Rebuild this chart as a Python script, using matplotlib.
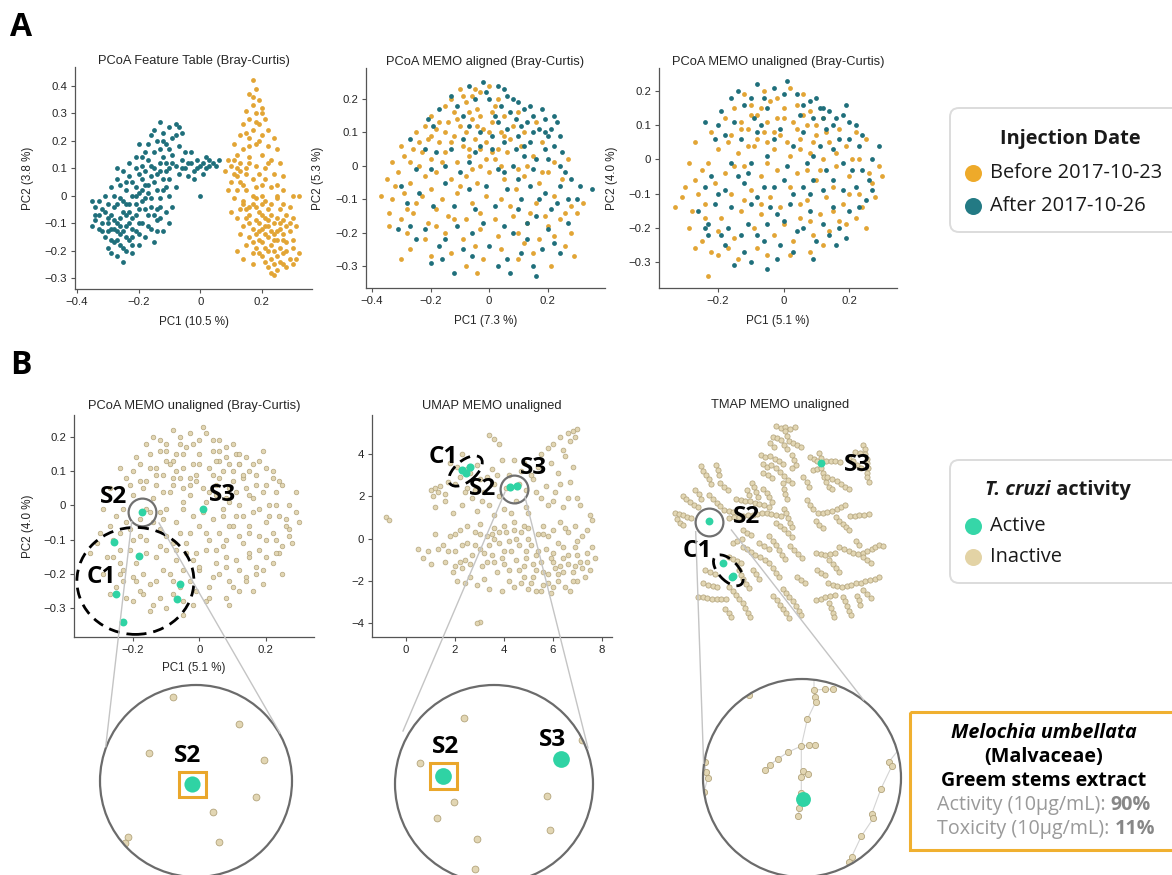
import matplotlib
matplotlib.use('Agg')
import matplotlib.pyplot as plt
from matplotlib.patches import Circle, Ellipse, FancyBboxPatch, Rectangle
from matplotlib.transforms import ScaledTranslation

plt.rcParams['font.family'] = ['Liberation Sans', 'DejaVu Sans']

# ---------------- data ----------------
ORANGE, TEAL = '#e2a535', '#1f6f7b'
ACTIVE, INACT_F, INACT_E = '#2fd3a4', '#e2d6b3', '#b3a47c'

a1_teal = [(-0.35,-0.02),(-0.34,-0.09),(-0.33,-0.12),(-0.32,-0.05),(-0.31,-0.15),(-0.31,0.0),(-0.30,-0.08),(-0.30,-0.19),(-0.29,0.03),(-0.29,-0.12),(-0.28,-0.04),(-0.28,-0.17),(-0.27,0.06),(-0.27,-0.10),(-0.27,-0.22),(-0.26,-0.01),(-0.26,-0.14),(-0.25,0.09),(-0.25,-0.06),(-0.25,-0.19),(-0.24,0.02),(-0.24,-0.11),(-0.23,0.12),(-0.23,-0.03),(-0.23,-0.16),(-0.22,0.05),(-0.22,-0.08),(-0.22,-0.21),(-0.21,0.14),(-0.21,0.0),(-0.21,-0.13),(-0.20,0.08),(-0.20,-0.05),(-0.20,-0.18),(-0.19,0.11),(-0.19,-0.02),(-0.19,-0.10),(-0.18,0.04),(-0.18,-0.15),(-0.17,0.13),(-0.17,-0.07),(-0.16,0.07),(-0.16,-0.01),(-0.16,-0.12),(-0.15,0.10),(-0.15,-0.17),(-0.14,0.02),(-0.14,-0.09),(-0.13,0.12),(-0.13,-0.04),(-0.12,0.06),(-0.12,-0.13),(-0.11,-0.06),(-0.11,0.09),(-0.10,0.0),(-0.10,-0.10),
           (-0.17,0.19),(-0.16,0.22),(-0.15,0.16),(-0.14,0.20),(-0.13,0.27),(-0.13,0.17),(-0.12,0.23),(-0.11,0.19),(-0.10,0.25),(-0.09,0.21),(-0.08,0.26),(-0.09,0.15),(-0.07,0.18),(-0.06,0.23),(-0.20,0.19),(-0.18,0.16),
           (-0.08,0.11),(-0.07,0.08),(-0.06,0.13),(-0.05,0.10),(-0.04,0.07),(-0.03,0.12),(-0.02,0.09),(-0.01,0.13),(0.00,0.11),(0.01,0.12),(0.02,0.10),(0.03,0.13),(0.04,0.12),(0.05,0.11),(0.06,0.13),(-0.03,0.16),(-0.05,0.16),(0.02,0.14),(0.0,0.0),(-0.02,0.06),(0.01,0.08),
           (-0.33,-0.07),(-0.32,-0.13),(-0.30,-0.03),(-0.29,-0.07),(-0.28,0.0),(-0.27,-0.13),(-0.26,0.04),(-0.26,-0.08),(-0.24,-0.03),(-0.24,-0.15),(-0.23,0.07),(-0.22,-0.12),(-0.21,0.03),(-0.21,-0.07),(-0.20,0.01),(-0.19,0.06),(-0.18,-0.05),(-0.17,0.01),(-0.17,-0.11),(-0.15,0.05),(-0.15,-0.07),(-0.14,0.08),(-0.13,-0.01),(-0.12,0.02),(-0.25,-0.24),(-0.29,-0.21),(-0.35,-0.11),(-0.34,-0.04),(-0.27,0.1),(-0.19,0.14),(-0.11,0.03),(-0.09,-0.04),(-0.1,0.06),(-0.08,0.03),
           (-0.34,-0.07),(-0.33,-0.02),(-0.32,-0.1),(-0.31,-0.06),(-0.3,-0.13),(-0.29,-0.16),(-0.28,-0.09),(-0.28,-0.12),(-0.27,-0.03),(-0.26,-0.11),(-0.26,-0.18),(-0.25,-0.02),(-0.25,-0.13),(-0.24,0.05),(-0.24,-0.07),(-0.23,-0.1),(-0.22,0.0),(-0.22,-0.15),(-0.21,0.1),(-0.21,-0.03),(-0.2,-0.1),(-0.19,0.02),(-0.18,0.09),(-0.18,-0.01),(-0.17,0.04),(-0.16,0.11),(-0.16,-0.04),(-0.14,-0.05),(-0.13,0.09),(-0.12,0.14),(-0.11,0.12),(-0.1,0.1),(-0.09,0.12),(-0.06,0.1),(-0.04,0.12),(-0.01,0.1),(0.03,0.11),(-0.12,0.2),(-0.1,0.17),(-0.08,0.22),(-0.15,0.24),(-0.07,0.25),(-0.23,-0.06),(-0.3,-0.1),(-0.27,-0.16),(-0.2,-0.14),(-0.24,-0.2),(-0.22,-0.18),(-0.14,-0.13),(-0.13,-0.08)]
a1_orange = [(0.17,0.42),(0.18,0.39),(0.16,0.37),(0.19,0.35),(0.17,0.33),(0.15,0.31),(0.2,0.32),(0.18,0.3),(0.16,0.28),(0.21,0.28),(0.14,0.26),(0.19,0.26),(0.17,0.24),(0.22,0.24),(0.13,0.22),(0.2,0.22),(0.24,0.21),(0.16,0.21),(0.11,0.19),(0.18,0.19),(0.22,0.18),(0.25,0.17),(0.14,0.17),(0.12,0.15),(0.2,0.15),(0.16,0.14),(0.23,0.13),(0.26,0.12),(0.09,0.13),(0.1,0.11),(0.13,0.12),(0.18,0.11),(0.21,0.1),(0.08,0.09),(0.11,0.08),(0.15,0.08),(0.24,0.08),(0.27,0.07),(0.1,0.05),(0.13,0.05),(0.17,0.06),(0.2,0.04),(0.12,0.02),(0.15,0.02),(0.23,0.03),(0.27,0.02),(0.3,0.0),(0.11,-0.01),(0.14,-0.02),(0.18,-0.01),(0.21,-0.02),(0.25,-0.01),(0.32,0.0),(0.13,-0.05),(0.16,-0.04),(0.19,-0.06),(0.22,-0.05),(0.26,-0.05),(0.29,-0.04),(0.12,-0.08),(0.15,-0.08),(0.18,-0.09),(0.21,-0.08),(0.24,-0.1),(0.27,-0.09),(0.3,-0.08),(0.14,-0.11),(0.17,-0.12),(0.2,-0.12),(0.23,-0.13),(0.26,-0.12),(0.29,-0.13),(0.31,-0.11),(0.16,-0.15),(0.19,-0.16),(0.22,-0.15),(0.25,-0.16),(0.28,-0.17),(0.15,-0.18),(0.18,-0.19),(0.21,-0.19),(0.24,-0.2),(0.27,-0.21),(0.3,-0.19),(0.2,-0.22),(0.23,-0.23),(0.26,-0.24),(0.29,-0.23),(0.22,-0.26),(0.25,-0.27),(0.24,-0.29),(0.28,-0.26),(0.31,-0.23),(0.12,-0.2),(0.14,-0.23),(0.17,-0.25),(0.1,-0.06),(0.09,0.02),(0.17,0.0),(0.2,-0.03),(0.23,-0.07),(0.18,-0.14),(0.21,-0.11),(0.24,-0.14),(0.19,0.08),(0.22,0.12),(0.15,0.1),(0.13,-0.14),(0.27,-0.14),(0.2,-0.17),(0.26,-0.19),(0.17,-0.21),(0.23,-0.18),(0.16,-0.07),(0.25,0.0),(0.12,0.1),(0.16,0.12),(0.2,0.0),
             (0.14,-0.03),(0.17,-0.03),(0.2,-0.07),(0.22,-0.09),(0.25,-0.08),(0.28,-0.07),(0.19,-0.1),(0.22,-0.11),(0.25,-0.13),(0.28,-0.11),(0.16,-0.1),(0.19,-0.13),(0.21,-0.14),(0.24,-0.16),(0.27,-0.16),(0.3,-0.16),(0.17,-0.17),(0.22,-0.2),(0.25,-0.22),(0.28,-0.2),(0.19,-0.21),(0.21,-0.24),(0.27,-0.25),(0.24,-0.25),(0.3,-0.25),(0.23,-0.28),(0.15,-0.05),(0.18,-0.04),(0.23,-0.03),(0.27,-0.03),(0.12,0.07),(0.14,0.04),(0.18,0.03),(0.21,0.06),(0.16,0.18),(0.19,0.2),(0.15,0.23),(0.18,0.27),(0.2,0.3),(0.17,0.36),(0.11,0.13),(0.13,0.09),(0.25,0.04),(0.29,-0.1),(0.26,-0.1),(0.32,-0.21)]

a2_orange = [(-0.1,0.23),(-0.03,0.22),(0.0,0.24),(-0.06,0.21),(-0.2,0.15),(-0.15,0.18),(-0.12,0.16),(-0.08,0.19),(-0.04,0.17),(0.02,0.18),(0.05,0.15),(0.1,0.16),(-0.17,0.13),(-0.25,0.1),(-0.22,0.12),(-0.18,0.11),(-0.14,0.13),(-0.1,0.12),(-0.06,0.14),(-0.02,0.11),(0.01,0.13),(0.04,0.1),(0.08,0.12),(0.12,0.1),(0.16,0.13),(-0.3,0.06),(-0.26,0.05),(-0.21,0.08),(-0.17,0.07),(-0.12,0.09),(-0.09,0.06),(-0.05,0.08),(-0.01,0.07),(0.03,0.05),(0.07,0.08),(0.11,0.06),(0.18,0.07),(-0.33,0.01),(-0.29,0.03),(-0.24,0.0),(-0.2,0.02),(-0.15,0.04),(-0.11,0.01),(-0.07,0.03),(-0.03,0.0),(0.02,0.02),(0.06,0.04),(0.1,-0.01),(0.15,0.03),(0.22,0.01),(0.27,0.02),(-0.35,-0.04),(-0.31,-0.02),(-0.27,-0.05),(-0.22,-0.03),(-0.18,-0.02),(-0.13,-0.04),(-0.08,-0.03),(-0.04,-0.05),(0.0,-0.02),(0.05,-0.04),(0.12,-0.03),(0.17,-0.05),(0.2,-0.02),(0.25,-0.04),(-0.37,-0.09),(-0.33,-0.1),(-0.29,-0.08),(-0.25,-0.11),(-0.2,-0.07),(-0.16,-0.1),(-0.11,-0.08),(-0.06,-0.11),(-0.01,-0.09),(0.04,-0.1),(0.09,-0.07),(0.16,-0.11),(0.22,-0.09),(0.28,-0.12),(0.32,-0.11),(-0.34,-0.14),(-0.3,-0.16),(-0.26,-0.14),(-0.21,-0.17),(-0.14,-0.15),(-0.08,-0.16),(-0.03,-0.14),(0.02,-0.16),(0.08,-0.15),(0.13,-0.17),(0.19,-0.15),(0.24,-0.16),(0.3,-0.14),(-0.34,-0.18),(-0.28,-0.2),(-0.22,-0.22),(-0.15,-0.2),(-0.09,-0.22),(-0.03,-0.19),(0.03,-0.21),(0.1,-0.2),(0.17,-0.22),(0.22,-0.21),(0.28,-0.2),(-0.3,-0.28),(-0.27,-0.25),(-0.2,-0.27),(-0.13,-0.26),(-0.08,-0.3),(-0.02,-0.28),(0.04,-0.25),(0.1,-0.28),(0.15,-0.26),(0.21,-0.3),(0.26,-0.24),(0.29,-0.27),(-0.04,-0.32),
             (-0.13,0.2),(-0.09,0.21),(-0.05,0.23),(0.03,0.2),(-0.11,0.14),(-0.07,0.16),(-0.03,0.15),(0.01,0.16),(-0.15,0.1),(-0.08,0.1),(-0.04,0.12),(0.0,0.1),(-0.13,0.07),(-0.07,0.05),(-0.03,0.05),(0.01,0.04),(0.05,0.09),(-0.16,0.01),(-0.06,-0.01),(0.04,0.0),(-0.23,0.04),(-0.27,0.01),(-0.32,-0.06),(-0.23,-0.09),(-0.18,-0.13),(-0.12,-0.16),(0.07,-0.12),(0.14,-0.14),(0.2,-0.18),(0.26,-0.14),(0.12,-0.23),(-0.05,-0.24),(-0.18,-0.18),(-0.28,-0.13),(-0.01,0.02),(0.13,0.0),(0.18,-0.02),(-0.1,-0.06),(-0.2,0.09),(-0.24,0.07)]
a2_teal = [(-0.07,0.24),(-0.02,0.25),(0.03,0.24),(0.06,0.21),(-0.05,0.2),(0.0,0.2),(0.04,0.18),(0.08,0.2),(0.12,0.17),(0.15,0.15),(0.19,0.14),(0.21,0.11),(0.23,0.13),(0.17,0.11),(0.13,0.13),(0.09,0.14),(-0.13,0.21),(-0.17,0.17),(-0.09,0.15),(0.02,0.15),(0.06,0.11),(0.1,0.09),(0.14,0.07),(0.19,0.05),(0.22,0.06),(0.25,0.04),(0.2,0.09),(0.16,0.02),(0.12,0.03),(0.08,0.0),(0.03,-0.01),(-0.05,0.04),(-0.09,0.08),(-0.13,0.05),(-0.18,0.04),(-0.22,0.05),(-0.25,-0.01),(-0.3,-0.06),(-0.24,-0.08),(-0.19,-0.12),(-0.12,-0.12),(-0.07,-0.07),(-0.01,-0.06),(0.06,-0.07),(0.11,-0.1),(0.14,-0.06),(0.19,-0.08),(0.24,-0.06),(0.28,-0.04),(0.31,-0.06),(0.35,-0.07),(0.27,-0.1),(0.21,-0.13),(0.16,-0.15),(0.1,-0.13),(0.05,-0.18),(-0.02,-0.17),(-0.06,-0.2),(-0.11,-0.18),(-0.17,-0.24),(-0.22,-0.19),(-0.27,-0.18),(-0.31,-0.19),(-0.25,-0.22),(-0.16,-0.28),(-0.12,-0.32),(-0.06,-0.27),(0.0,-0.24),(0.06,-0.28),(0.13,-0.22),(0.18,-0.25),(0.24,-0.26),(0.2,-0.19),(0.27,-0.17),(0.15,-0.3),(0.16,-0.33),(0.07,-0.32),(-0.2,-0.29),(-0.1,-0.02),(-0.15,0.0),(-0.03,0.06),(0.01,0.09),(0.09,0.05),(0.05,0.07),(-0.27,0.08),(-0.21,0.14),
           (-0.01,0.22),(0.05,0.23),(0.1,0.19),(0.14,0.18),(0.18,0.17),(0.22,0.15),(0.11,0.12),(0.15,0.1),(0.19,0.1),(0.24,0.09),(0.07,0.16),(0.03,0.13),(-0.03,0.1),(-0.07,0.12),(0.2,0.02),(0.24,0.0),(0.15,-0.01),(0.1,-0.04),(0.05,-0.02),(0.17,-0.1),(0.23,-0.11),(0.13,-0.17),(0.08,-0.2),(0.02,-0.12),(-0.05,-0.13),(-0.15,-0.05),(-0.2,-0.01),(-0.28,-0.11),(-0.15,-0.22),(-0.09,-0.25),(0.03,-0.3),(0.11,-0.26),(0.22,-0.23),(0.3,-0.1),(0.26,-0.02),(-0.11,0.18),(-0.19,0.12),(0.01,0.05),(-0.07,0.01),(0.12,0.06)]

# PCoA MEMO unaligned (same samples in panel A3 and B1)
a3_orange = [(-0.12,0.19),(-0.06,0.2),(0.02,0.21),(0.06,0.19),(-0.15,0.15),(-0.1,0.16),(-0.04,0.17),(0.0,0.15),(0.04,0.16),(0.08,0.14),(-0.18,0.12),(-0.13,0.11),(-0.08,0.13),(-0.02,0.12),(0.03,0.11),(0.07,0.1),(0.12,0.12),(0.17,0.09),(0.22,0.08),(-0.22,0.08),(-0.16,0.07),(-0.11,0.09),(-0.06,0.08),(-0.01,0.07),(0.05,0.06),(0.1,0.07),(0.14,0.05),(0.19,0.04),(0.25,0.06),(-0.27,0.05),(-0.2,0.03),(-0.14,0.02),(-0.09,0.04),(-0.03,0.03),(0.02,0.01),(0.08,0.02),(0.12,0.0),(0.16,-0.02),(0.21,0.0),(-0.29,-0.01),(-0.25,-0.03),(-0.18,-0.04),(-0.12,-0.02),(-0.07,-0.05),(-0.02,-0.03),(0.04,-0.04),(0.1,-0.06),(0.15,-0.08),(0.2,-0.05),(0.26,-0.04),(0.29,-0.02),(-0.3,-0.08),(-0.26,-0.1),(-0.21,-0.07),(-0.16,-0.1),(-0.1,-0.09),(-0.04,-0.11),(0.02,-0.08),(0.07,-0.12),(0.13,-0.11),(0.18,-0.13),(0.23,-0.1),(0.28,-0.11),(-0.28,-0.15),(-0.24,-0.13),(-0.19,-0.17),(-0.13,-0.15),(-0.07,-0.16),(-0.01,-0.14),(0.05,-0.17),(0.11,-0.16),(0.17,-0.18),(0.22,-0.17),(0.25,-0.2),(-0.33,-0.14),(-0.29,-0.2),(-0.25,-0.24),(-0.2,-0.21),(-0.15,-0.23),(-0.09,-0.2),(-0.03,-0.22),(0.03,-0.24),(0.09,-0.22),(0.14,-0.21),(-0.23,-0.34),(-0.2,-0.28),(-0.14,-0.29),(-0.08,-0.26),(0.02,-0.28),(0.08,-0.27),(0.12,-0.25),(-0.27,-0.26),(0.27,-0.07),(0.3,-0.05),
             (-0.1,0.13),(-0.05,0.11),(0.0,0.12),(-0.07,0.15),(-0.13,0.09),(-0.08,0.06),(-0.03,0.08),(0.01,0.05),(0.04,0.09),(0.06,0.13),(-0.17,0.05),(-0.11,0.04),(-0.05,0.05),(0.05,0.03),(0.09,0.05),(0.13,0.08),(-0.15,-0.02),(-0.05,-0.01),(0.07,-0.03),(0.11,-0.03),(-0.23,-0.01),(-0.27,-0.06),(-0.24,-0.17),(-0.31,-0.11),(-0.22,-0.27),(-0.17,-0.26),(-0.05,-0.28),(0.05,-0.13),(0.15,-0.15),(0.2,-0.1),(0.24,-0.14),(0.19,-0.19),(-0.12,-0.12),(-0.07,-0.13),(0.0,-0.19),(0.08,-0.18),(0.1,0.1),(-0.02,0.18),(0.16,0.02),(0.23,0.0)]
a3_teal = [(-0.08,0.22),(-0.03,0.21),(0.01,0.23),(-0.14,0.2),(-0.1,0.18),(0.04,0.19),(0.08,0.17),(0.11,0.15),(0.14,0.14),(0.16,0.12),(0.19,0.16),(0.2,0.11),(0.13,0.09),(0.09,0.12),(0.05,0.13),(-0.05,0.15),(-0.16,0.18),(-0.2,0.1),(-0.24,0.11),(-0.13,0.06),(-0.07,0.1),(-0.01,0.09),(0.06,0.08),(0.11,0.04),(0.17,0.06),(0.23,0.04),(0.27,0.0),(0.29,0.04),(0.24,-0.03),(0.18,-0.01),(0.13,-0.03),(0.07,-0.01),(0.01,-0.02),(-0.05,0.01),(-0.1,-0.01),(-0.16,-0.01),(-0.22,-0.05),(-0.24,-0.08),(-0.18,-0.09),(-0.12,-0.07),(-0.06,-0.08),(0.0,-0.06),(0.06,-0.08),(0.12,-0.09),(0.18,-0.09),(0.22,-0.08),(0.25,-0.12),(0.2,-0.15),(0.15,-0.14),(0.08,-0.15),(0.02,-0.13),(-0.04,-0.14),(-0.1,-0.13),(-0.16,-0.14),(-0.21,-0.13),(-0.23,-0.19),(-0.17,-0.2),(-0.11,-0.19),(-0.05,-0.19),(0.0,-0.18),(0.06,-0.2),(0.12,-0.19),(0.19,-0.23),(0.16,-0.25),(0.1,-0.24),(0.04,-0.21),(-0.01,-0.25),(-0.06,-0.24),(-0.12,-0.27),(-0.18,-0.25),(-0.24,-0.2),(-0.1,-0.3),(-0.05,-0.32),(-0.02,-0.29),(-0.15,-0.31),(-0.23,-0.22),(0.09,-0.29),(-0.21,0.06),(-0.19,0.14),(-0.09,0.12),
           (-0.12,0.16),(-0.06,0.18),(0.0,0.19),(0.06,0.16),(0.1,0.18),(0.12,0.12),(0.15,0.1),(0.18,0.13),(0.22,0.1),(0.24,0.07),(0.2,0.06),(0.15,0.03),(0.09,0.01),(0.03,0.04),(-0.03,0.06),(-0.08,0.08),(-0.15,0.11),(-0.18,0.07),(0.26,-0.06),(0.21,-0.03),(0.15,-0.06),(0.09,-0.06),(0.03,-0.1),(-0.03,-0.08),(-0.08,-0.11),(-0.14,-0.05),(-0.2,-0.1),(-0.26,-0.15),(-0.19,-0.22),(-0.13,-0.22),(-0.08,-0.22),(0.03,-0.27),(0.14,-0.22),(0.17,-0.2),(0.27,-0.09),(0.23,-0.14),(-0.02,-0.16),(0.08,-0.1),(-0.11,-0.04),(0.12,0.15)]
b1_active = [(-0.172,-0.021),(0.012,-0.011),(-0.256,-0.106),(-0.182,-0.148),(-0.058,-0.229),(-0.252,-0.26),(-0.069,-0.275),(-0.229,-0.34)]

umap_inactive = [(1.2,0.2),(1.5,-0.3),(1.8,0.1),(2.0,-0.6),(2.2,0.4),(2.4,-1.0),(2.5,-0.2),(2.8,0.3),(3.0,-0.5),(3.1,-1.3),(3.3,0.1),(3.5,-0.8),(3.6,0.5),(3.8,-0.2),(4.0,-1.2),(4.1,0.3),(4.3,-0.6),(4.5,0.0),(4.6,-1.5),(4.8,0.6),(4.9,-0.9),(5.1,-0.3),(5.2,-1.8),(5.4,0.2),(5.5,-1.1),(5.7,-0.5),(5.8,-2.1),(6.0,0.4),(6.1,-1.4),(6.2,-0.2),(6.4,-0.9),(6.5,-2.3),(6.6,0.3),(6.8,-1.6),(6.9,-0.4),(7.1,-1.1),(7.2,0.1),(7.4,-0.7),(7.5,-1.5),(7.7,-0.9),(1.6,-1.1),(1.9,-1.6),(2.1,-2.0),(2.3,-1.4),(2.6,-1.8),(2.9,-2.2),(3.2,-1.9),(3.4,-2.4),(3.7,-1.6),(3.9,-2.5),(4.2,-2.0),(4.4,-2.3),(4.7,-2.1),(5.0,-2.4),(5.3,-2.5),(5.6,-2.2),(5.9,-2.6),(6.2,-2.0),(6.7,-2.5),(7.0,-2.0),(7.3,-1.8),(3.5,0.2),(4.0,0.6),(4.4,0.8),(5.0,0.5),(5.6,0.6),(6.3,0.8),(6.9,0.6),(7.4,0.4),(3.0,0.7),(2.5,0.6),(5.3,-0.8),(6.0,-1.1),(6.6,-1.2),(4.8,-1.3),(4.2,-0.1),(3.3,-1.1),(2.7,-0.8),(5.8,-1.7),(6.4,-1.6),(7.0,-0.8),(0.5,-0.5),(0.7,-0.9),(1.0,-1.2),(0.9,-0.6),
                 (1.0,2.3),(1.1,2.0),(1.3,2.2),(1.2,1.5),(1.6,1.8),(1.9,1.2),(2.0,2.6),(2.3,1.6),(2.5,2.4),(2.7,1.9),(2.9,1.3),(3.0,2.8),(3.2,2.2),(3.4,1.6),(3.5,3.3),(3.6,2.6),(3.8,2.0),(3.9,3.7),(4.0,1.4),(4.2,3.0),(4.5,1.8),(4.7,3.2),(4.9,2.3),(5.0,1.2),(5.2,2.8),(5.4,3.4),(5.5,1.9),(5.7,2.5),(5.9,3.6),(6.1,2.2),(6.2,3.1),(6.4,1.5),(6.5,3.9),(6.7,2.7),(7.0,1.9),(7.5,1.1),(7.6,0.9),(1.8,3.6),(2.3,4.0),(2.9,3.5),(3.4,4.9),(3.6,4.7),(3.8,4.5),(4.4,3.7),(4.8,3.6),(5.5,4.0),(5.8,4.3),(6.0,4.5),(6.3,4.8),(6.6,5.0),(6.8,5.1),(6.9,4.8),(6.7,4.6),(7.0,5.2),(6.4,4.2),(2.6,3.1),(2.2,2.9),(-0.8,1.0),(-0.7,0.9),(3.0,-3.95),(2.9,-4.0),(1.7,2.7),(2.8,2.3),(4.6,2.6),(5.1,3.0),(3.3,2.9),(1.4,2.5),(6.0,1.8),(6.8,3.4),(6.6,1.9),
                 (1.3,-0.5),(1.7,-0.6),(2.0,0.2),(2.3,-0.3),(2.6,-1.2),(2.8,-0.3),(3.0,0.2),(3.2,-0.7),(3.4,-0.3),(3.6,-1.1),(3.8,0.3),(4.0,-0.6),(4.2,-1.5),(4.4,0.4),(4.6,-0.3),(4.8,-1.8),(5.0,0.0),(5.2,-1.2),(5.4,-0.6),(5.6,-1.6),(5.8,0.1),(6.0,-0.7),(6.2,-1.7),(6.4,-0.4),(6.6,-0.8),(6.8,-2.0),(7.0,-0.1),(7.2,-1.4),(7.4,-1.1),(7.6,-0.4),(5.1,-2.1),(5.5,-2.5),(6.0,-2.3),(6.3,-1.3),(6.9,-1.3),(5.9,-0.9),(5.3,-1.5),(4.5,-1.0),(3.9,-0.9),(4.9,-0.6),(2.2,-1.1),(2.0,-1.3),(2.4,-2.1),(3.6,0.0),(4.7,0.3),(5.6,0.2),(6.5,0.5),(2.5,3.3),(2.1,3.4),(1.6,2.1),(1.2,2.4),(2.4,2.2),(3.1,1.8),(3.7,3.0),(4.1,2.4),(5.3,2.2),(5.8,1.6),(6.3,2.6),(7.1,1.6),(4.3,1.2),(3.6,1.1),(4.9,1.5)]
umap_active = [(2.27,3.24),(2.61,3.40),(2.45,3.11),(4.24,2.42),(4.54,2.50)]

# TMAP layout coordinates (arbitrary layout units, y downward)
tmap_chains = [
 [(438,108),(452,114),(466,110),(480,116),(494,112)],
 [(466,124),(470,138),(476,152),(488,160),(502,164),(514,172)],
 [(428,140),(442,144),(454,150),(462,164),(470,178)],
 [(420,160),(432,172)],
 [(392,194),(406,202),(420,198),(434,206),(448,212),(460,222)],
 [(398,222),(410,230),(424,226),(438,234),(450,246),(462,258),(474,270),(486,280)],
 [(486,196),(492,210),(498,224),(486,234)],
 [(400,250),(414,256),(426,264)],
 [(548,240),(560,236),(573,218),(588,214),(602,212),(616,214),(630,216)],
 [(568,188),(572,204)],
 [(574,234),(578,248),(582,262),(588,276),(596,290),(606,298)],
 [(592,262),(606,268),(620,274),(632,282),(644,290),(656,298)],
 [(540,200),(552,206),(562,212)],
 [(700,164),(704,178),(706,192),(710,206),(712,220),(714,234),(710,248),(712,262),(716,276)],
 [(676,186),(690,190)],
 [(656,204),(668,214),(680,224),(692,234)],
 [(520,262),(530,276),(536,290)],
 [(366,278),(372,292),(378,306),(384,320)],
 [(398,296),(410,308),(418,322),(426,336)],
 [(458,280),(462,296),(466,312),(470,328)],
 [(318,326),(332,330),(346,332),(360,334),(374,338),(388,342),(402,346),(416,352)],
 [(350,300),(356,314)],
 [(212,228),(220,242),(228,256),(236,268),(244,282)],
 [(258,226),(264,240),(268,254)],
 [(270,280),(282,290),(294,300)],
 [(158,318),(168,328),(180,336),(192,344),(204,350)],
 [(134,368),(146,372),(158,376),(170,380),(184,384)],
 [(140,388),(150,398),(160,406)],
 [(238,316),(250,328),(260,338),(270,348)],
 [(282,360),(296,362),(310,366)],
 [(196,300),(206,312),(214,326)],
 [(298,384),(312,382),(326,380),(340,378),(354,376),(368,374),(382,372),(396,370),(410,370),(424,372),(438,374),(452,378)],
 [(462,356),(468,370),(474,384),(480,398),(486,412)],
 [(438,398),(450,408),(462,418),(474,430),(486,442)],
 [(340,420),(352,428),(364,436)],
 [(564,370),(578,368),(592,366),(606,362),(620,356),(634,350),(646,344)],
 [(618,380),(628,392),(638,402),(648,412),(658,420)],
 [(660,378),(674,378),(688,376),(702,374),(716,372)],
 [(558,392),(568,404),(580,414)],
 [(530,330),(540,344),(548,358)],
 [(558,490),(572,492),(586,494),(600,492),(614,488)],
 [(628,470),(642,476),(656,482),(670,488),(684,492),(698,488),(712,482),(726,476)],
 [(734,470),(746,466),(758,468)],
 [(598,510),(608,522),(618,534),(628,546)],
 [(678,454),(686,466)],
 [(698,500),(710,510),(722,518)],
 [(560,540),(572,548),(584,556)],
 [(594,580),(608,584),(622,588),(636,590),(650,588),(664,584),(678,580),(692,578),(706,574),(720,570),(734,566),(746,562)],
 [(558,630),(572,626),(586,622),(600,618),(614,614)],
 [(598,640),(604,654),(608,668),(612,682)],
 [(640,620),(646,634),(652,648),(658,662),(664,676)],
 [(680,618),(686,630),(690,644)],
 [(700,600),(712,612),(722,624)],
 [(418,438),(428,452),(438,466),(446,480),(456,494),(466,508)],
 [(480,468),(492,480),(504,492),(516,504)],
 [(388,458),(402,468),(416,478)],
 [(338,470),(350,478),(362,486),(376,494),(390,502),(404,510)],
 [(418,520),(428,534),(438,548),(448,560)],
 [(458,598),(468,610),(478,622),(488,634)],
 [(428,618),(440,630),(450,644),(460,656),(468,670),(476,684)],
 [(498,648),(506,662),(512,676)],
 [(500,560),(512,570),(524,580)],
 [(204,620),(218,622),(232,624),(246,626),(260,628),(274,628),(288,626)],
 [(296,500),(310,506),(322,512),(334,518)],
 [(328,540),(334,554),(340,568),(348,582),(358,594)],
 [(368,540),(378,552),(386,566)],
 [(298,590),(308,602),(318,614),(328,626),(338,640),(346,654),(354,668),(360,682)],
 [(286,656),(296,668),(304,682)],
 [(220,580),(234,584),(248,588),(262,590)],
 [(226,540),(240,546),(254,552)],
 [(310,460),(322,452),(336,446)],
]
tmap_active = [(238,394),(280,520),(310,558),(306,562),(573,218)]

# zoom-in circles (local offsets from circle centre, y downward)
z1_inactive = [(-22.7,-84.3),(43,-57),(-46.7,-28.3),(68,-21),(60,15.7),(16.7,31.3),(-67.7,55.7),(23.3,61.3),(-71,62)]
z1_active = [(-3.7,3.3)]
z2_inactive = [(-29.7,-65.7),(-74.4,-21.3),(88,-44),(-39.7,17.7),(52.8,11.7),(-57.2,33.7),(56,45.7),(-16.9,55),(-18.6,85.3)]
z2_active = [(-50.8,-8),(67.1,-25)]
z3_edges = [
 [(12,-110),(12,-88),(13.3,-80.7),(13.7,-76),(5.3,-58.7),(-0.7,-32),(-0.7,-7),(-0.7,15.3),(1.3,21.3),(-2.7,30.3),(-3.7,37.7)],
 [(-0.7,-32),(-13.7,-26),(-24.3,-19),(-32,-13),(-36.7,-8)],
 [(-0.7,-32),(6.7,-33),(13.3,-33)],
 [(-0.7,-7),(6,-4.3)],
 [(12,-88),(23.3,-88.7),(30.7,-88.7)],
 [(98,-30),(87,-16.3),(90,-12.3),(79,10.7),(69.7,36),(71.3,40.3),(59.3,58.3),(49.7,78.7),(47.3,83.7),(38,100)],
 [(-97,-16.3),(-96.3,-5.7),(-94.3,0.3),(-98,13.7)],
]
z3_inactive = [(12,-88),(23.3,-88.7),(30.7,-88.7),(13.3,-80.7),(13.7,-76),(5.3,-58.7),(-0.7,-32),(6.7,-33),(13.3,-33),(-13.7,-26),(-24.3,-19),(-32,-13),(-36.7,-8),(0.7,-7),(6,-4.3),(-0.7,-1.3),(-0.7,15.3),(-2.7,30.3),(-3.7,37.7),(-97,-16.3),(-96.3,-5.7),(-94.3,0.3),(-98,13.7),(87,-16.3),(90,-12.3),(79,10.7),(69.7,36),(71.3,40.3),(59.3,58.3),(49.7,78.7),(47.3,83.7),(-52.7,-82.7)]
z3_active = [(1.3,21.3)]

legend_a_labels = ['Before 2017-10-23', 'After 2017-10-26']
legend_b_labels = ['Active', 'Inactive']

# ---------------- figure ----------------
W, H = 1172, 875
fig = plt.figure(figsize=(W / 100, H / 100), dpi=100)
TXT = '#262626'
OS = ['Open Sans', 'DejaVu Sans']


def px_axes(l, t, r, b):
    return fig.add_axes([l / W, 1 - b / H, (r - l) / W, (b - t) / H])


def style(ax, xt, yt, xl, yl, title, ylx, xly, tpad=2.5):
    for s in ['top', 'right']:
        ax.spines[s].set_visible(False)
    for s in ['left', 'bottom']:
        ax.spines[s].set_color('#555555')
        ax.spines[s].set_linewidth(0.9)
    ax.tick_params(labelsize=8.2, colors=TXT, length=3, width=0.8, color='#555555', pad=2.5)
    ax.set_xticks(xt)
    ax.set_yticks(yt)
    ax.set_xticklabels([('%g' % v).replace('-', '\u2212') for v in xt])
    ax.set_yticklabels([('%g' % v).replace('-', '\u2212') for v in yt])
    if xl:
        ax.set_xlabel(xl, fontsize=8.4, color=TXT)
        ax.xaxis.set_label_coords(0.5, xly)
    if yl:
        ax.set_ylabel(yl, fontsize=8.4, color=TXT)
        ax.yaxis.set_label_coords(ylx, 0.5)
    ax.set_title(title, fontsize=9.3, color=TXT, pad=tpad)


def xs(pts):
    return [p[0] for p in pts]


def ys(pts):
    return [p[1] for p in pts]


SA = 12
pc_xt = [-0.4, -0.2, 0, 0.2]
# A1
ax = px_axes(75, 67, 312, 289)
ax.scatter(xs(a1_teal), ys(a1_teal), s=SA, c=TEAL, linewidths=0)
ax.scatter(xs(a1_orange), ys(a1_orange), s=SA, c=ORANGE, linewidths=0)
ax.set_xlim(-0.4065, 0.363); ax.set_ylim(-0.34, 0.469)
style(ax, pc_xt, [-0.3, -0.2, -0.1, 0, 0.1, 0.2, 0.3, 0.4], 'PC1 (10.5 %)', 'PC2 (3.8 %)',
      'PCoA Feature Table (Bray-Curtis)', -0.172, -0.122)
# A2
ax = px_axes(366, 68, 605, 288)
ax.scatter(xs(a2_orange), ys(a2_orange), s=SA, c=ORANGE, linewidths=0)
ax.scatter(xs(a2_teal), ys(a2_teal), s=SA, c=TEAL, linewidths=0)
ax.set_xlim(-0.42, 0.395); ax.set_ylim(-0.366, 0.293)
style(ax, pc_xt, [-0.3, -0.2, -0.1, 0, 0.1, 0.2], 'PC1 (7.3 %)', 'PC2 (5.3 %)',
      'PCoA MEMO aligned (Bray-Curtis)', -0.176, -0.122)
# A3
ax = px_axes(659, 68, 897, 288)
ax.scatter(xs(a3_orange), ys(a3_orange), s=SA, c=ORANGE, linewidths=0)
ax.scatter(xs(a3_teal), ys(a3_teal), s=SA, c=TEAL, linewidths=0)
ax.set_xlim(-0.38, 0.346); ax.set_ylim(-0.376, 0.267)
style(ax, [-0.2, 0, 0.2], [-0.3, -0.2, -0.1, 0, 0.1, 0.2], 'PC1 (5.1 %)', 'PC2 (4.0 %)',
      'PCoA MEMO unaligned (Bray-Curtis)', -0.172, -0.122)


def px_ellipse(ax, cx, cy, w, h, angle, **kw):
    tr = fig.dpi_scale_trans + ScaledTranslation(cx, cy, ax.transData)
    e = Ellipse((0, 0), w / 100, h / 100, angle=angle, transform=tr, fill=False, **kw)
    ax.add_artist(e)


LBL = dict(fontsize=17.5, fontweight='bold', family=OS, color='black',
           ha='center', va='center', zorder=6)

# B1
ax = px_axes(74, 415, 314, 637)
ax.scatter(xs(a3_orange) + xs(a3_teal), ys(a3_orange) + ys(a3_teal), s=11, c=INACT_F,
           edgecolors=INACT_E, linewidths=0.5)
ax.scatter(xs(b1_active), ys(b1_active), s=32, c=ACTIVE, linewidths=0, zorder=4)
ax.set_xlim(-0.378, 0.345); ax.set_ylim(-0.385, 0.264)
style(ax, [-0.2, 0, 0.2], [-0.3, -0.2, -0.1, 0, 0.1, 0.2], 'PC1 (5.1 %)', 'PC2 (4.0 %)',
      'PCoA MEMO unaligned (Bray-Curtis)', -0.167, -0.113, tpad=4)
ax.plot([b1_active[0][0]], [b1_active[0][1]], 'o', ms=20, mfc='none', mec='#707070', mew=1.6, zorder=5)
px_ellipse(ax, -0.193, -0.221, 117, 107, 0, edgecolor='black', lw=2, ls=(0, (4, 2.5)), zorder=5)
ax.text(-0.26, 0.024, 'S2', **LBL)
ax.text(0.068, 0.029, 'S3', **LBL)
ax.text(-0.295, -0.21, 'C1', **LBL)

# B2
ax = px_axes(372, 415, 612, 637)
ax.scatter(xs(umap_inactive), ys(umap_inactive), s=12, c=INACT_F, edgecolors=INACT_E, linewidths=0.5)
ax.scatter(xs(umap_active), ys(umap_active), s=34, c=ACTIVE, linewidths=0, zorder=4)
ax.set_xlim(-1.39, 8.41); ax.set_ylim(-4.66, 5.85)
style(ax, [0, 2, 4, 6, 8], [-4, -2, 0, 2, 4], None, None, 'UMAP MEMO unaligned', 0, 0, tpad=4)
ax.plot([4.42], [2.37], 'o', ms=20, mfc='none', mec='#707070', mew=1.6, zorder=5)
px_ellipse(ax, 2.43, 3.20, 40, 21, 40, edgecolor='black', lw=2, ls=(0, (4, 2.5)), zorder=5)
ax.text(1.51, 3.85, 'C1', **LBL)
ax.text(3.14, 2.36, 'S2', **LBL)
ax.text(5.22, 3.33, 'S3', **LBL)

# B3 (TMAP)
ax = px_axes(630, 390, 930, 680)
ax.set_xlim(0, 900); ax.set_ylim(870, 0)
ax.axis('off')
for ch in tmap_chains:
    ax.plot(xs(ch), ys(ch), color='#e3e3e3', lw=0.5, zorder=1)
allt = [p for ch in tmap_chains for p in ch]
ax.scatter(xs(allt), ys(allt), s=14, c=INACT_F, edgecolors=INACT_E, linewidths=0.55, zorder=2)
ax.scatter(xs(tmap_active), ys(tmap_active), s=32, c=ACTIVE, linewidths=0, zorder=4)
ax.text(0.5, 0.948, 'TMAP MEMO unaligned', transform=ax.transAxes, ha='center', va='center',
        fontsize=9.3, color=TXT)
ax.plot([237], [395], 'o', ms=20, mfc='none', mec='#707070', mew=1.6, zorder=5)
px_ellipse(ax, 295, 541, 38, 20, -47, edgecolor='black', lw=2, ls=(0, (4, 2.5)), zorder=5)
ax.text(350, 382, 'S2', **LBL)
ax.text(682, 225, 'S3', **LBL)
ax.text(202, 482, 'C1', **LBL)


# zoom circles
def zoom_axes(cx, cy, r):
    a = px_axes(cx - r - 3, cy - r - 3, cx + r + 3, cy + r + 3)
    a.set_xlim(-r - 3, r + 3); a.set_ylim(r + 3, -r - 3)
    a.axis('off')
    c = Circle((0, 0), r, fill=False, edgecolor='#6b6b6b', lw=1.6, zorder=5)
    a.add_patch(c)
    clip = Circle((0, 0), r, transform=a.transData)
    return a, clip


ax, clip = zoom_axes(196, 781, 96)
sc = ax.scatter(xs(z1_inactive), ys(z1_inactive), s=24, c=INACT_F, edgecolors=INACT_E, linewidths=0.6)
sc.set_clip_path(clip)
ax.scatter(xs(z1_active), ys(z1_active), s=135, c=ACTIVE, linewidths=0, zorder=4)
ax.add_patch(Rectangle((-17, -9.3), 27, 25, fill=False, edgecolor='#eaa72b', lw=2.2, zorder=4))
ax.text(-8.3, -25.5, 'S2', **LBL)

ax, clip = zoom_axes(494, 784, 99)
sc = ax.scatter(xs(z2_inactive), ys(z2_inactive), s=24, c=INACT_F, edgecolors=INACT_E, linewidths=0.6)
sc.set_clip_path(clip)
ax.scatter(xs(z2_active), ys(z2_active), s=145, c=ACTIVE, linewidths=0, zorder=4)
ax.add_patch(Rectangle((-64.4, -20.7), 27.5, 25.7, fill=False, edgecolor='#eaa72b', lw=2.2, zorder=4))
ax.text(-48.3, -37, 'S2', **LBL)
ax.text(58.9, -44.5, 'S3', **LBL)

ax, clip = zoom_axes(802, 778, 99)
for ed in z3_edges:
    ln, = ax.plot(xs(ed), ys(ed), color='#d4d4d4', lw=0.8, zorder=1)
    ln.set_clip_path(clip)
sc = ax.scatter(xs(z3_inactive), ys(z3_inactive), s=20, c=INACT_F, edgecolors=INACT_E, linewidths=0.6, zorder=2)
sc.set_clip_path(clip)
ax.scatter(xs(z3_active), ys(z3_active), s=115, c=ACTIVE, linewidths=0, zorder=4)

# overlay (pixel coordinates) for connectors, legends, letters, info box
ov = fig.add_axes([0, 0, 1, 1])
ov.set_xlim(0, W); ov.set_ylim(H, 0)
ov.axis('off')
ov.set_zorder(20)
ov.patch.set_alpha(0)
for (x0, y0), (x1, y1) in [((131.7, 521.7), (105.7, 746.7)), ((159, 523), (280, 733)),
                           ((505, 492), (403, 731)), ((525, 497), (588, 748)),
                           ((695.7, 531.7), (703.6, 763.3)), ((731.4, 530), (863.6, 700))]:
    ov.plot([x0, x1], [y0, y1], color='#c4c4c4', lw=1.0)

ov.text(21, 28, 'A', fontsize=23, fontweight='bold', family=OS, ha='center', va='center', color='black')
ov.text(21, 366, 'B', fontsize=23, fontweight='bold', family=OS, ha='center', va='center', color='black')

LF = 14.4
# legend A
ov.add_patch(FancyBboxPatch((950, 108), 240, 124, boxstyle='round,pad=0,rounding_size=9',
                            fc='white', ec='#dcdcdc', lw=1.4))
ov.text(1070, 139, 'Injection Date', family=OS, fontsize=LF, fontweight='bold', ha='center',
        va='center', color='#1a1a1a')
for yy, col, lab in zip([173, 206], ['#eeaa2a', '#237a84'], legend_a_labels):
    ov.scatter([973], [yy], s=150, c=col, linewidths=0)
    ov.text(990, yy, lab, family=OS, fontsize=LF, ha='left', va='center', color='#1a1a1a')

# legend B
ov.add_patch(FancyBboxPatch((950, 460), 240, 123, boxstyle='round,pad=0,rounding_size=9',
                            fc='white', ec='#dcdcdc', lw=1.4))
t1 = ov.text(985, 490, 'T. cruzi', family=OS, fontsize=LF, fontweight='bold', style='italic',
             ha='left', va='center', color='#1a1a1a')
ov.annotate(' activity', xy=(1, 0.5), xycoords=t1, family=OS, fontsize=LF, fontweight='bold',
            ha='left', va='center', color='#1a1a1a')
for yy, col, lab in zip([526, 557], ['#36d6a8', '#e3d3a5'], legend_b_labels):
    ov.scatter([973], [yy], s=150, c=col, linewidths=0)
    ov.text(990, yy, lab, family=OS, fontsize=LF, ha='left', va='center', color='#1a1a1a')

# info box
BF = 14.2
ov.add_patch(Rectangle((910, 712), 275, 138, fill=False, edgecolor='#f0b030', lw=2.2))
ov.text(1044, 733, 'Melochia umbellata', family=OS, fontsize=BF, fontweight='bold', style='italic',
        ha='center', va='center', color='black')
ov.text(1044, 757, '(Malvaceae)', family=OS, fontsize=BF, fontweight='bold', ha='center',
        va='center', color='black')
ov.text(1044, 781, 'Greem stems extract', family=OS, fontsize=BF, fontweight='bold', ha='center',
        va='center', color='black')
for yy, lab, val in [(805, 'Activity (10\u00b5g/mL): ', '90%'), (829, 'Toxicity (10\u00b5g/mL): ', '11%')]:
    tt = ov.text(937, yy, lab, family=OS, fontsize=BF, ha='left', va='center', color='#9a9a9a')
    ov.annotate(val, xy=(1, 0.5), xycoords=tt, family=OS, fontsize=BF, fontweight='bold',
                ha='left', va='center', color='#878787')

fig.savefig('out.png', dpi=100)
